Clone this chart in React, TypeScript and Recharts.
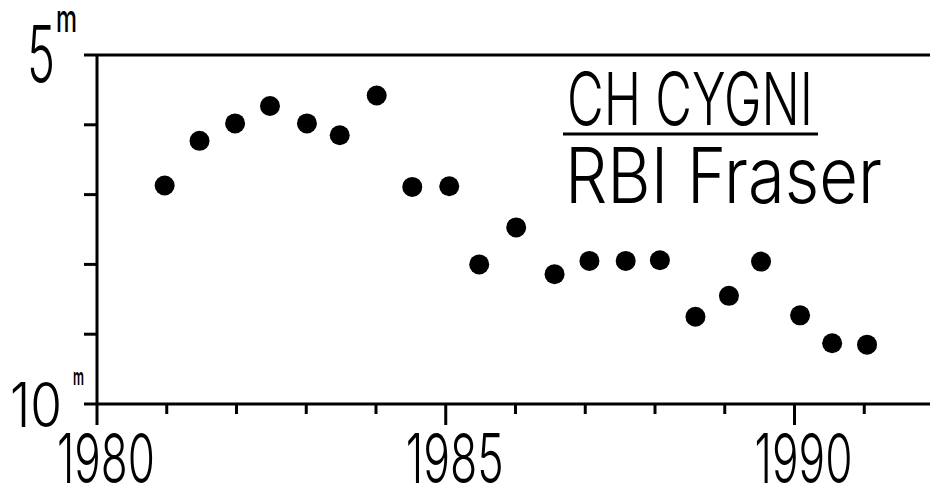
import { ScatterChart, Scatter, XAxis, YAxis, ReferenceLine } from 'recharts';

// observation epochs (decimal years) and visual magnitudes
const years = [
    1980.97, 1981.47, 1981.98, 1982.48, 1983.01, 1983.48, 1984.01, 1984.52, 1985.05, 1985.48,
    1986.01, 1986.56, 1987.06, 1987.58, 1988.07, 1988.58, 1989.06, 1989.52, 1990.08, 1990.54, 1991.04,
];
const magnitudes = [
    6.87, 6.23, 5.98, 5.73, 5.98, 6.15, 5.58, 6.89, 6.88, 8.0,
    7.47, 8.14, 7.95, 7.95, 7.94, 8.75, 8.45, 7.96, 8.73, 9.13, 9.15,
];
const yearTicks = [1980, 1981, 1982, 1983, 1984, 1985, 1986, 1987, 1988, 1989, 1990, 1991];
const majorYears = [1980, 1985, 1990];
const magTicks = [5, 6, 7, 8, 9, 10];

const title = 'CH CYGNI';
const subtitle = 'RBI Fraser';

const data = years.map((year, i) => ({ year, mag: magnitudes[i] }));

const FONT = 'Inter, "DejaVu Sans", sans-serif';

const XTick = (props: any) => {
    const { x, y, payload } = props;
    const major = majorYears.includes(payload.value);
    return (
        <g>
            <line x1={x} x2={x} y1={y} y2={y + (major ? 21 : 10)} stroke='#000' strokeWidth={3} />
            {major && (
                <text
                    x={x + 9}
                    y={y + 79}
                    textAnchor='middle'
                    fontFamily={FONT}
                    fontWeight={300}
                    fontSize={68}
                    textLength={98}
                    lengthAdjust='spacingAndGlyphs'
                    fill='#000'
                >
                    {payload.value}
                </text>
            )}
        </g>
    );
};

const YTick = (props: any) => {
    const { x, y, payload } = props;
    const v = payload.value;
    return (
        <g>
            <line x1={x - 13} x2={x} y1={y} y2={y} stroke='#000' strokeWidth={3} />
            {v === 5 && (
                <>
                    <text x={x - 70} y={y + 27} fontFamily={FONT} fontWeight={300} fontSize={78}
                        textLength={28} lengthAdjust='spacingAndGlyphs' fill='#000'>5</text>
                    <text x={x - 41} y={y - 23} fontFamily={FONT} fontWeight={500} fontSize={38}
                        textLength={21} lengthAdjust='spacingAndGlyphs' fill='#000'>m</text>
                </>
            )}
            {v === 10 && (
                <>
                    <text x={x - 87} y={y + 23} fontFamily={FONT} fontWeight={300} fontSize={62}
                        textLength={52} lengthAdjust='spacingAndGlyphs' fill='#000'>10</text>
                    <text x={x - 24} y={y - 19} fontFamily={FONT} fontWeight={600} fontSize={24}
                        textLength={11} lengthAdjust='spacingAndGlyphs' fill='#000'>m</text>
                </>
            )}
        </g>
    );
};

const Dot = (props: any) => <circle cx={props.cx} cy={props.cy} r={10} fill='#000' />;

export default function App() {
    return (
        <div style={{ position: 'absolute', left: 0, top: 0, width: 930, height: 489, overflow: 'hidden', background: '#fff' }}>
            <ScatterChart width={934} height={489} margin={{ top: 55, right: 0, bottom: 0, left: 0 }}>
                <XAxis
                    type='number'
                    dataKey='year'
                    domain={[1980, 1992]}
                    ticks={yearTicks}
                    height={85}
                    tickSize={0}
                    tickMargin={0}
                    tick={<XTick />}
                    axisLine={{ stroke: '#000', strokeWidth: 3 }}
                    interval={0}
                />
                <YAxis
                    type='number'
                    dataKey='mag'
                    domain={[5, 10]}
                    reversed
                    ticks={magTicks}
                    width={97}
                    tickSize={0}
                    tickMargin={0}
                    tick={<YTick />}
                    axisLine={{ stroke: '#000', strokeWidth: 3 }}
                    interval={0}
                />
                <ReferenceLine y={5} stroke='#000' strokeWidth={3} />
                <Scatter data={data} shape={<Dot />} isAnimationActive={false} />
            </ScatterChart>
            <svg width={930} height={489} style={{ position: 'absolute', left: 0, top: 0, pointerEvents: 'none' }}>
                <text x={567} y={125} fontFamily={FONT} fontWeight={300} fontSize={73}
                    textLength={246} lengthAdjust='spacingAndGlyphs' fill='#000'>{title}</text>
                <line x1={563} x2={818} y1={134} y2={134} stroke='#000' strokeWidth={3} />
                <text x={565} y={203} fontFamily={FONT} fontWeight={300} fontSize={77}
                    textLength={317} lengthAdjust='spacingAndGlyphs' fill='#000'>{subtitle}</text>
            </svg>
        </div>
    );
}
